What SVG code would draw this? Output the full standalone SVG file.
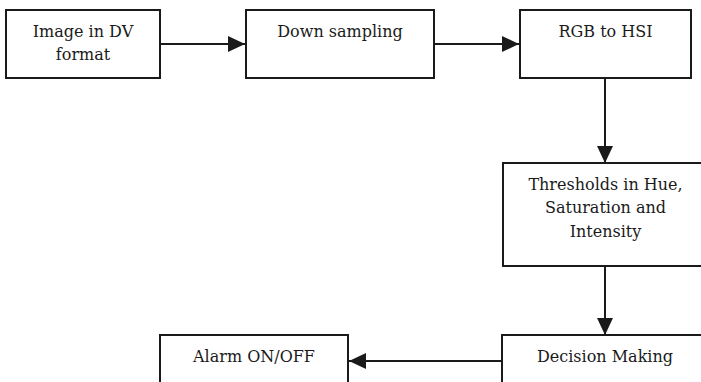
<svg xmlns="http://www.w3.org/2000/svg" width="701" height="382" viewBox="0 0 701 382">
<style>
.box{fill:#fff;stroke:#1a1a1a;stroke-width:2}
.lbl{font-family:'DejaVu Serif','Liberation Serif',serif;font-size:16px;fill:#1a1a1a;text-anchor:middle}
.con{stroke:#1a1a1a;stroke-width:2;fill:none}
</style>
<defs>
<marker id="ah" markerUnits="userSpaceOnUse" viewBox="0 0 17 16" refX="17" refY="8" markerWidth="17" markerHeight="16" orient="auto">
<path d="M0,0 L17,8 L0,16 Z" fill="#1a1a1a"/>
</marker>
</defs>
<rect width="701" height="382" fill="#fff"/>
<g id="connectors">
<line class="con" x1="160" y1="44" x2="245" y2="44" marker-end="url(#ah)"/>
<line class="con" x1="434" y1="44" x2="519" y2="44" marker-end="url(#ah)"/>
<line class="con" x1="605" y1="78" x2="605" y2="163" marker-end="url(#ah)"/>
<line class="con" x1="605" y1="266" x2="605" y2="335" marker-end="url(#ah)"/>
<line class="con" x1="502" y1="361" x2="349" y2="361" marker-end="url(#ah)"/>
</g>
<g id="n1">
<rect class="box" x="6" y="10" width="154" height="68"/>
<text class="lbl" x="83" y="37">Image in DV</text>
<text class="lbl" x="83" y="60">format</text>
</g>
<g id="n2">
<rect class="box" x="246" y="10" width="188" height="68"/>
<text class="lbl" x="340" y="37">Down sampling</text>
</g>
<g id="n3">
<rect class="box" x="520" y="10" width="171" height="68"/>
<text class="lbl" x="605.5" y="37">RGB to HSI</text>
</g>
<g id="n4">
<rect class="box" x="503" y="163" width="205" height="103"/>
<text class="lbl" x="605.5" y="190">Thresholds in Hue,</text>
<text class="lbl" x="605.5" y="213">Saturation and</text>
<text class="lbl" x="605.5" y="237">Intensity</text>
</g>
<g id="n5">
<rect class="box" x="502" y="335" width="206" height="60"/>
<text class="lbl" x="605" y="362">Decision Making</text>
</g>
<g id="n6">
<rect class="box" x="160" y="335" width="188" height="60"/>
<text class="lbl" x="254" y="362">Alarm ON/OFF</text>
</g>
</svg>
